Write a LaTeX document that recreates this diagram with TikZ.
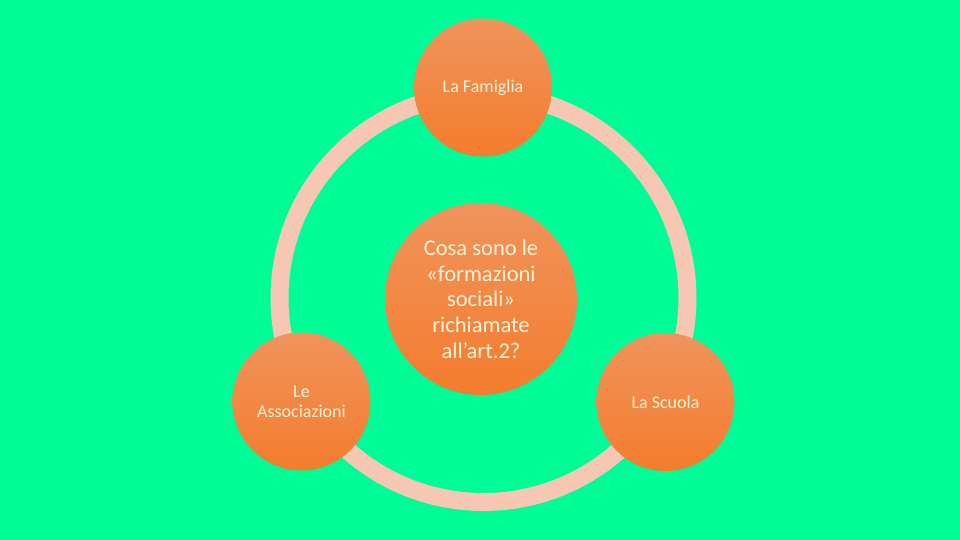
\documentclass[tikz,border=0pt]{standalone}
\usepackage{fontspec}
\setmainfont{Carlito}
\definecolor{bg}{RGB}{0,252,150}
\definecolor{ringcol}{RGB}{246,200,180}
\definecolor{orTop}{RGB}{240,148,92}
\definecolor{orBot}{RGB}{244,124,46}
\definecolor{txt}{RGB}{255,243,214}
\tikzset{
  bubble/.style={circle, top color=orTop, bottom color=orBot, draw=none, text=txt, align=center, inner sep=0pt},
  small/.style={bubble, minimum size=138pt, font=\fontsize{18}{20}\selectfont},
  big/.style={bubble, minimum size=192pt, font=\fontsize{22.5}{25.7}\selectfont},
  ringline/.style={draw=ringcol, line width=18pt}
}
\begin{document}
\begin{tikzpicture}[x=1pt,y=-1pt]
\fill[bg] (0,0) rectangle (960,540);
\useasboundingbox (0,0) rectangle (960,540);
\coordinate (rc) at (483.5,298);
\draw[ringline] (rc) circle (204);
\node[small] (fam) at (483,87.5) {La Famiglia};
\node[small] (ass) at (301.5,401.5) {Le\\Associazioni};
\node[small] (scu) at (665.5,402) {La Scuola};
\node[big] (cen) at (481,299) {Cosa sono le\\«formazioni\\sociali»\\richiamate\\all’art.2?};
\end{tikzpicture}
\end{document}
